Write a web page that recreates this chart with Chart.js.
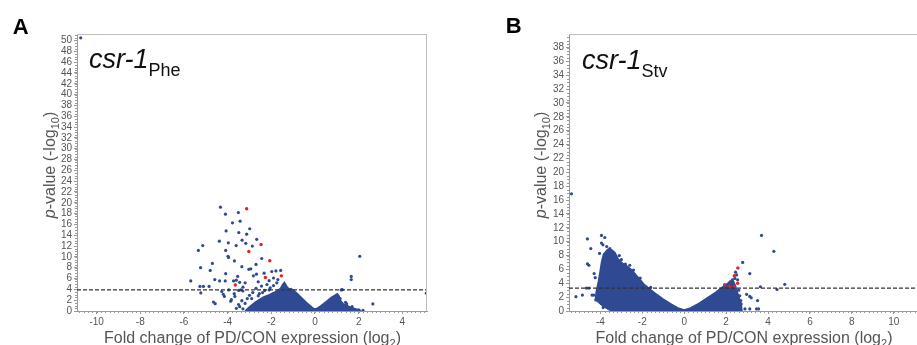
<!DOCTYPE html>
<html>
<head>
<meta charset="utf-8">
<script src="https://cdn.jsdelivr.net/npm/chart.js@4.4.1/dist/chart.umd.min.js"></script>
<style>
  html, body { margin: 0; padding: 0; background: #fff; overflow: hidden; width: 917px; height: 345px; }
  canvas { position: absolute; top: 0; }
  #chartA { left: 0; }
  #chartB { left: 460px; }
</style>
</head>
<body>
<canvas id="chartA" width="460" height="345"></canvas>
<canvas id="chartB" width="462" height="345"></canvas>
<script>
// ---- panel A: csr-1 Phe ----
const pheRange = { xMin: -10.9, xMax: 5.13, yMax: 51.2 };
const pheThreshold = 3.9;
// upper edge of the dense cloud (filled down to 0)
const pheCloud = [
  [-3.2, 0], [-3.05, 0.6], [-2.9, 1.1], [-2.75, 1.6], [-2.55, 2.1], [-2.35, 2.6], [-2.15, 2.9],
  [-2.0, 3.2], [-1.85, 3.5], [-1.7, 3.8], [-1.58, 4.2], [-1.48, 4.9], [-1.4, 5.3], [-1.3, 4.6],
  [-1.2, 4.1], [-1.0, 3.9], [-0.8, 3.2], [-0.6, 2.4], [-0.4, 1.6], [-0.2, 0.9], [-0.05, 0.4],
  [0.05, 0.4], [0.25, 0.9], [0.5, 1.7], [0.75, 2.5], [0.9, 2.9], [1.02, 3.2], [1.1, 2.8],
  [1.18, 1.9], [1.3, 1.3], [1.5, 0.95], [1.7, 0.6], [1.9, 0.35], [2.05, 0.15], [2.12, 0]
];
const pheBlue = [
  [-10.73, 50.5], [-4.33, 19.2], [-4.10, 17.9], [-3.51, 18.2], [-3.43, 16.6], [-3.78, 16.3],
  [-2.99, 15.2], [-4.07, 14.8], [-3.49, 14.5], [-3.13, 14.2], [-3.34, 13.1], [-4.38, 12.9],
  [-2.67, 13.25], [-3.97, 12.6], [-3.17, 12.5], [-3.61, 12.1], [-5.14, 12.1], [-5.34, 11.2],
  [-4.09, 11.2], [-2.87, 12.0], [-3.98, 10.1], [-3.96, 9.9], [-2.44, 9.7], [-4.70, 8.8],
  [-3.69, 9.25], [-2.70, 8.6], [-3.35, 8.2], [-5.24, 8.0], [-3.03, 7.7], [-4.80, 7.5],
  [-4.09, 6.9], [-2.33, 7.0], [-1.98, 7.3], [-1.79, 7.4], [-1.57, 7.5], [-2.82, 6.5],
  [-3.54, 6.4], [-2.68, 6.8], [-2.94, 7.8], [-4.59, 5.8], [-5.69, 5.55], [-4.37, 5.55],
  [-4.11, 5.55], [-3.73, 5.55], [-3.6, 5.7], [-3.45, 5.3], [-3.2, 5.2], [-2.6, 5.4],
  [-2.1, 5.6], [-1.9, 6.1], [-1.7, 5.8], [-5.27, 4.55], [-5.11, 4.55], [-4.85, 4.55],
  [-5.23, 3.35], [-4.65, 1.66], [-4.57, 1.36], [-4.15, 2.7], [-4.27, 3.6], [-4.2, 3.1],
  [-3.86, 1.8], [-3.83, 2.1], [-3.67, 2.7], [-3.5, 3.8], [-3.4, 3.9], [-3.3, 3.7],
  [-3.3, 4.4], [-3.6, 0.5], [-3.45, 0.8], [-3.3, 0.4], [-3.1, 2.3], [-3.0, 2.9],
  [-2.85, 3.4], [-2.7, 4.2], [-2.55, 3.2], [-2.45, 4.6], [-2.3, 3.8], [-2.2, 4.9],
  [-2.05, 4.3], [-1.9, 4.7], [-1.75, 5.2], [-3.7, 3.2], [-3.95, 3.9], [-2.9, 2.3],
  [-3.2, 1.4], [-3.35, 1.9], [-3.5, 1.2], [-2.6, 2.8], [-2.4, 3.4], [-2.1, 3.9],
  [-1.2, 3.9], [-1.1, 4.0], [1.2, 3.9], [1.25, 3.95], [1.15, 2.3], [1.05, 1.5],
  [1.4, 1.6], [1.45, 1.3], [1.7, 0.8], [2.0, 0.2], [2.2, 0.1], [2.05, 10.1],
  [1.66, 6.4], [1.66, 5.8], [2.65, 1.3], [5.1, 3.3]
];
const pheRed = [
  [-3.13, 18.9], [-2.47, 12.3], [-3.03, 11.0], [-2.07, 9.3], [-2.27, 6.2], [-1.54, 6.5], [-3.65, 4.8]
];

// ---- panel B: csr-1 Stv ----
const stvRange = { xMin: -5.5, xMax: 11.16, yMax: 39.95 };
const stvThreshold = 3.3;
const stvCloudTop = [
  [-4.24, 1.6], [-4.2, 2.8], [-4.1, 4.2], [-4.02, 5.6], [-3.95, 7.0], [-3.85, 8.2], [-3.65, 8.9],
  [-3.45, 8.8], [-3.3, 8.4], [-3.15, 7.5], [-2.95, 6.9], [-2.7, 6.4], [-2.5, 5.9], [-2.3, 5.2],
  [-2.1, 4.5], [-1.9, 3.8], [-1.7, 3.3], [-1.4, 2.6], [-1.0, 1.7], [-0.6, 0.95], [-0.3, 0.45],
  [0, 0.15], [0.3, 0.45], [0.7, 1.1], [1.1, 1.9], [1.5, 2.7], [1.8, 3.4], [2.0, 3.8],
  [2.2, 4.3], [2.35, 4.3], [2.45, 3.6], [2.55, 2.6], [2.65, 1.7], [2.72, 1.0], [2.76, 0]
];
const stvCloudBottom = [
  [-4.24, 1.6], [-3.95, 0.8], [-3.6, 0.15], [-3.5, 0], [2.76, 0]
];
const stvBlue = [
  [-5.38, 16.9], [-3.95, 10.9], [-3.79, 10.6], [-4.62, 10.4], [-4.46, 9.0], [-4.04, 8.3],
  [-3.95, 9.8], [-3.88, 9.55], [-3.7, 9.3], [-3.55, 9.0], [-4.62, 6.8], [-4.55, 6.6],
  [-4.3, 5.4], [-4.25, 4.8], [-5.17, 2.07], [-4.86, 2.3], [-4.67, 3.3], [-4.55, 3.3],
  [-4.4, 2.3], [-4.32, 2.3], [-4.22, 1.6], [-3.87, 0.5], [-3.56, 0.5], [-3.32, 0.45],
  [-2.81, 6.75], [-2.6, 6.6], [-2.42, 5.9], [-2.1, 4.75], [-1.86, 3.5], [-1.6, 3.4],
  [-3.1, 8.0], [-3.0, 7.4], [3.69, 10.9], [4.28, 8.6], [4.8, 3.85], [4.43, 3.1],
  [3.64, 3.5], [2.79, 7.0], [3.13, 5.4], [2.98, 2.4], [3.13, 2.1], [3.2, 1.9],
  [3.5, 1.5], [2.9, 0.3], [3.13, 0.3], [3.45, 0.3], [3.55, 0.3], [2.45, 5.6],
  [2.5, 5.2], [2.42, 4.7], [2.6, 3.0], [2.65, 2.2], [2.7, 1.5], [2.72, 1.0],
  [2.6, 0.5], [2.3, 4.5], [2.2, 4.2], [2.55, 4.5]
];
const stvRed = [
  [2.56, 6.2], [2.39, 5.1], [2.55, 4.0], [1.93, 3.8], [2.17, 3.55], [2.39, 3.55]
];

const BLUE = '#2f4a93';
const RED = '#e0241d';
const FONT = '"Liberation Sans", Arial, sans-serif';

const toXY = pairs => pairs.map(([x, y]) => ({ x, y }));

function drawRuns(ctx, runs, x, y, align) {
  let total = 0;
  runs.forEach(r => { ctx.font = r.font; r.w = ctx.measureText(r.text).width; total += r.w; });
  let cx = align === 'center' ? x - total / 2 : x;
  runs.forEach(r => { ctx.font = r.font; ctx.fillText(r.text, cx, y + (r.dy || 0)); cx += r.w; });
}

// frame, minor ticks and all the text around the plot
const decorPlugin = {
  id: 'decor',
  afterDraw(chart, args, o) {
    const { ctx, chartArea: a, scales: { x, y } } = chart;
    ctx.save();
    ctx.strokeStyle = '#bdbdbd';
    ctx.lineWidth = 1;
    ctx.beginPath();
    ctx.moveTo(a.left, a.top + 0.5); ctx.lineTo(a.right, a.top + 0.5);
    ctx.moveTo(a.right - 0.5, a.top); ctx.lineTo(a.right - 0.5, a.bottom);
    ctx.stroke();

    ctx.strokeStyle = '#999';
    ctx.beginPath();
    for (let i = Math.ceil(x.min / o.xStep); i * o.xStep <= x.max; i++) {
      const px = Math.round(x.getPixelForValue(i * o.xStep)) + 0.5;
      ctx.moveTo(px, a.bottom); ctx.lineTo(px, a.bottom + 2);
    }
    for (let i = Math.ceil(y.min / o.yStep); i * o.yStep <= y.max; i++) {
      const py = Math.round(y.getPixelForValue(i * o.yStep)) + 0.5;
      ctx.moveTo(a.left - 2, py); ctx.lineTo(a.left, py);
    }
    ctx.stroke();

    ctx.textAlign = 'left';
    ctx.textBaseline = 'alphabetic';
    ctx.fillStyle = '#000';
    ctx.font = 'bold 22px ' + FONT;
    ctx.fillText(o.letter, o.letterX, o.letterY);

    ctx.fillStyle = '#111';
    drawRuns(ctx, [
      { text: 'csr-1', font: 'italic 27px ' + FONT },
      { text: o.sub, font: '18px ' + FONT, dy: 8 }
    ], o.geneX, o.geneY, 'left');

    ctx.fillStyle = '#555';
    drawRuns(ctx, [
      { text: 'Fold change of PD/CON expression (log', font: '16px ' + FONT },
      { text: '2', font: '11px ' + FONT, dy: 4 },
      { text: ')', font: '16px ' + FONT }
    ], o.xTitleX, 343, 'center');

    ctx.translate(o.yTitleX, 165);
    ctx.rotate(-Math.PI / 2);
    drawRuns(ctx, [
      { text: 'p', font: 'italic 16px ' + FONT },
      { text: '-value (-log', font: '16px ' + FONT },
      { text: '10', font: '11px ' + FONT, dy: 4 },
      { text: ')', font: '16px ' + FONT }
    ], 0, 0, 'center');
    ctx.restore();
  }
};

function makeChart(id, cfg) {
  const axisStyle = {
    grid: { display: true, drawOnChartArea: false, drawTicks: true, tickLength: 3, color: '#999' },
    border: { display: true, color: '#999', width: 1 }
  };
  return new Chart(document.getElementById(id), {
    type: 'scatter',
    data: {
      datasets: [
        {
          type: 'line', data: [{ x: cfg.range.xMin, y: cfg.threshold }, { x: cfg.range.xMax, y: cfg.threshold }],
          borderColor: '#333', borderWidth: 1.2, borderDash: [4, 2], pointRadius: 0, fill: false, order: 0
        },
        { data: toXY(cfg.red), backgroundColor: RED, borderWidth: 0, pointRadius: 1.7, order: 1 },
        { data: toXY(cfg.blue), backgroundColor: BLUE, borderWidth: 0, pointRadius: 1.6, order: 2 },
        {
          type: 'line', data: toXY(cfg.cloud), borderColor: BLUE, backgroundColor: BLUE,
          borderWidth: 1.5, pointRadius: 0, tension: 0, fill: cfg.cloudFill, order: 3
        },
        ...(cfg.cloudBottom ? [{
          type: 'line', data: toXY(cfg.cloudBottom), borderColor: BLUE, backgroundColor: BLUE,
          borderWidth: 1, pointRadius: 0, tension: 0, fill: false, order: 4
        }] : [])
      ]
    },
    options: {
      responsive: false,
      animation: false,
      devicePixelRatio: 1,
      layout: { padding: cfg.padding },
      plugins: { legend: { display: false }, tooltip: { enabled: false }, decor: cfg.decor },
      scales: {
        x: {
          type: 'linear', position: 'bottom', min: cfg.range.xMin, max: cfg.range.xMax,
          afterFit: s => { s.height = 34; },
          ticks: { stepSize: 2, includeBounds: false, autoSkip: false, maxRotation: 0, padding: 2,
                   color: '#555', font: { family: FONT, size: 10 } },
          ...axisStyle
        },
        y: {
          type: 'linear', min: 0, max: cfg.range.yMax,
          afterFit: s => { s.width = cfg.yAxisWidth; },
          ticks: { stepSize: 2, includeBounds: false, autoSkip: false, padding: 2,
                   color: '#555', font: { family: FONT, size: 10 } },
          ...axisStyle
        }
      }
    },
    plugins: [decorPlugin]
  });
}

makeChart('chartA', {
  range: pheRange, threshold: pheThreshold, red: pheRed, blue: pheBlue,
  cloud: pheCloud, cloudFill: 'origin',
  padding: { left: 0, top: 34, right: 33, bottom: 0 }, yAxisWidth: 77,
  decor: { xStep: 0.2, yStep: 0.5, letter: 'A', letterX: 12.7, letterY: 34.3,
           sub: 'Phe', geneX: 89, geneY: 68, xTitleX: 252.5, yTitleX: 55 }
});

makeChart('chartB', {
  range: stvRange, threshold: stvThreshold, red: stvRed, blue: stvBlue,
  cloud: stvCloudTop, cloudFill: '+1', cloudBottom: stvCloudBottom,
  padding: { left: 0, top: 34, right: 0, bottom: 0 }, yAxisWidth: 109,
  decor: { xStep: 0.2, yStep: 0.5, letter: 'B', letterX: 45.7, letterY: 32.7,
           sub: 'Stv', geneX: 122, geneY: 69, xTitleX: 284, yTitleX: 86 }
});
</script>
</body>
</html>
